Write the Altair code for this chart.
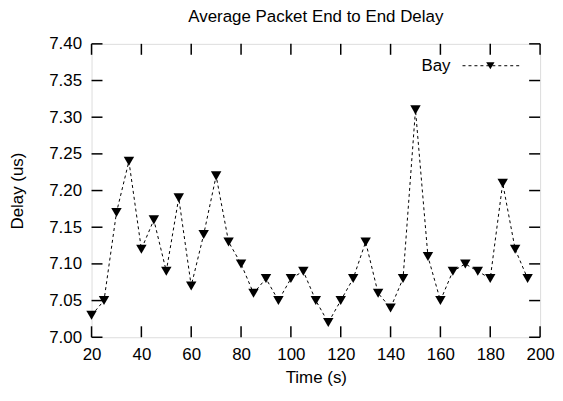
import altair as alt
import pandas as pd

time_s = [20, 25, 30, 35, 40, 45, 50, 55, 60, 65, 70, 75, 80, 85, 90, 95,
          100, 105, 110, 115, 120, 125, 130, 135, 140, 145, 150, 155, 160,
          165, 170, 175, 180, 185, 190, 195]
delay_us = [7.03, 7.05, 7.17, 7.24, 7.12, 7.16, 7.09, 7.19, 7.07, 7.14, 7.22,
            7.13, 7.10, 7.06, 7.08, 7.05, 7.08, 7.09, 7.05, 7.02, 7.05, 7.08,
            7.13, 7.06, 7.04, 7.08, 7.31, 7.11, 7.05, 7.09, 7.10, 7.09, 7.08,
            7.21, 7.12, 7.08]
x_ticks = [20, 40, 60, 80, 100, 120, 140, 160, 180, 200]
y_ticks = [7.00, 7.05, 7.10, 7.15, 7.20, 7.25, 7.30, 7.35, 7.40]
series_name = "Bay"

W, H = 451, 295
FONT = "Liberation Sans"
FS = 17

df = pd.DataFrame({"t": time_s, "d": delay_us})
xt = pd.DataFrame({"t": x_ticks})
yt = pd.DataFrame({"d": y_ticks})

xs = alt.Scale(domain=[20, 200], nice=False, zero=False)
ys = alt.Scale(domain=[7.0, 7.4], nice=False, zero=False)

xaxis = alt.Axis(values=x_ticks, format="d", ticks=False, domain=False, grid=False,
                 labelPadding=9, labelFontSize=FS, labelFont=FONT, labelColor="black",
                 labelOverlap=False, labelFlush=False,
                 title="Time (s)", titleFontSize=FS, titleFont=FONT,
                 titleFontWeight="normal", titleColor="black", titlePadding=8)
yaxis = alt.Axis(values=y_ticks, format=".2f", ticks=False, domain=False, grid=False,
                 labelPadding=10, labelFontSize=FS, labelFont=FONT, labelColor="black",
                 labelOverlap=False, labelFlush=False,
                 title="Delay (us)", titleFontSize=FS, titleFont=FONT,
                 titleFontWeight="normal", titleColor="black", titlePadding=22)

X = alt.X("t:Q", scale=xs, axis=xaxis)
Y = alt.Y("d:Q", scale=ys, axis=yaxis)

line = alt.Chart(df).mark_line(color="black", strokeDash=[3, 3], strokeWidth=1).encode(
    x=X, y=Y)
pts = alt.Chart(df).mark_point(shape="triangle-down", filled=True, color="black",
                               size=110, opacity=1).encode(x=X, y=Y)

tick_len = 11
xb = alt.Chart(xt).mark_rule(color="black", strokeWidth=1.5).encode(
    x=X, y=alt.value(H), y2=alt.value(H - tick_len))
xtp = alt.Chart(xt).mark_rule(color="black", strokeWidth=1.5).encode(
    x=X, y=alt.value(0), y2=alt.value(tick_len))
yl = alt.Chart(yt).mark_rule(color="black", strokeWidth=1.5).encode(
    y=Y, x=alt.value(0), x2=alt.value(tick_len))
yr = alt.Chart(yt).mark_rule(color="black", strokeWidth=1.5).encode(
    y=Y, x=alt.value(W), x2=alt.value(W - tick_len))

leg_df = pd.DataFrame({"name": [series_name]})
leg_text = alt.Chart(leg_df).mark_text(align="right", baseline="middle", fontSize=FS,
                                       font=FONT, color="black").encode(
    text="name:N", x=alt.value(361), y=alt.value(22))
leg_line = alt.Chart(leg_df).mark_rule(color="black", strokeDash=[3, 3], strokeWidth=1).encode(
    x=alt.value(373), x2=alt.value(430), y=alt.value(22))
leg_pt = alt.Chart(leg_df).mark_point(shape="triangle-down", filled=True, color="black",
                                      size=70, opacity=1).encode(
    x=alt.value(401), y=alt.value(22))

chart = alt.layer(line, pts, xb, xtp, yl, yr, leg_text, leg_line, leg_pt).properties(
    width=W, height=H,
    title=alt.TitleParams("Average Packet End to End Delay", fontSize=FS, font=FONT,
                          fontWeight="normal", color="black", anchor="middle", offset=9),
    padding={"left": 84, "top": 35, "right": 15, "bottom": 53},
    autosize=alt.AutoSizeParams(type="none"),
).configure_view(stroke="black", strokeWidth=2).configure(background="white")

chart.save("out.html", embed_options={"renderer": "svg", "actions": False})
